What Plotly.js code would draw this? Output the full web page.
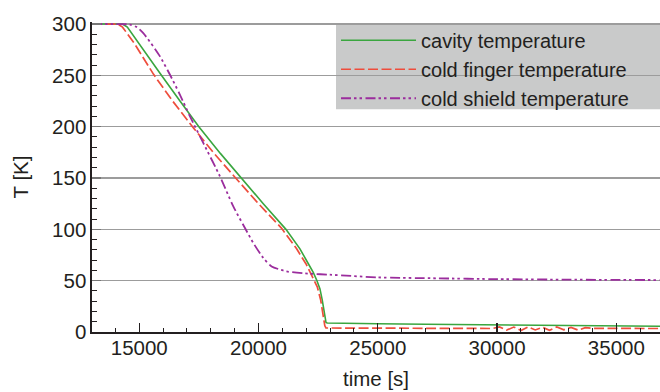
<!DOCTYPE html>
<html>
<head>
<meta charset="utf-8">
<script src="https://cdn.plot.ly/plotly-3.0.1.min.js"></script>
<style>html,body{margin:0;padding:0;background:#fff;}#chart{width:660px;height:392px;}</style>
</head>
<body>
<div id="chart"></div>
<script>
// Cavity temperature (green, solid)
const cavityTime = [13020, 14000, 14300, 14500, 15000, 15870, 16708, 17500, 18400, 19270, 20200, 21150, 21737, 22100, 22295, 22450, 22576, 22672, 22740, 22785, 22830, 22880, 23500, 25000, 27000, 30000, 33000, 36830];
const cavityTemp = [300, 300, 300, 297, 281, 252, 225, 200, 174, 150, 125, 100, 81, 66, 58, 50, 42, 31, 21, 12, 9.2, 8.7, 8.4, 8.0, 7.5, 7.0, 6.2, 5.6];

// Cold finger temperature (red, dashed)
const fingerTime = [13020, 14000, 14100, 14300, 14800, 15600, 16400, 17266, 18100, 19004, 20000, 20970, 21598, 22000, 22157, 22463, 22604, 22713, 22780, 22827, 24000, 27000, 29800, 30100, 30400, 30700, 31000, 31300, 31600, 31900, 32200, 32500, 32800, 33100, 33400, 33700, 34000, 36830];
const fingerTemp = [300, 300, 300, 297, 281, 251, 225, 199, 175, 151, 125, 101, 81, 66, 59, 44, 31.5, 15, 6, 3.9, 3.8, 3.5, 3.4, 5.0, 1.8, 4.8, 1.5, 5.0, 2.0, 4.6, 1.6, 4.9, 2.2, 4.5, 1.8, 4.2, 3.5, 3.4];

// Cold shield temperature (purple, dash-dot-dot)
const shieldTime = [13020, 14000, 14613, 14900, 15170, 15589, 15870, 16289, 16708, 17127, 17700, 18384, 18943, 19432, 19781, 20200, 20551, 21180, 22157, 22994, 25000, 27500, 30000, 33000, 36830];
const shieldTemp = [300, 300, 299.5, 297, 291.2, 278.2, 268.5, 250.6, 231.1, 210, 183.5, 151.6, 122.3, 101.3, 86.7, 72.1, 63.9, 59, 56.8, 55.8, 53.2, 52.3, 51.5, 51.0, 50.6];

const seriesNames = ['cavity temperature', 'cold finger temperature', 'cold shield temperature'];
const xTickVals = [15000, 20000, 25000, 30000, 35000];
const yTickVals = [0, 50, 100, 150, 200, 250, 300];

const txt = '#231f20';
const fontFam = 'Liberation Sans, Arial, Helvetica, sans-serif';

const traces = [
  {x: cavityTime, y: cavityTemp, name: seriesNames[0], mode: 'lines', type: 'scatter',
   line: {color: '#3aa63f', width: 1.6}},
  {x: fingerTime, y: fingerTemp, name: seriesNames[1], mode: 'lines', type: 'scatter',
   line: {color: '#ee4d3c', width: 1.7, dash: '10px,3.5px'}},
  {x: shieldTime, y: shieldTemp, name: seriesNames[2], mode: 'lines', type: 'scatter',
   line: {color: '#9b2d9d', width: 1.8, dash: '10px,3px,2.5px,3px,2.5px,3.5px', shape: 'spline', smoothing: 0.6}}
];

const layout = {
  width: 660, height: 392,
  margin: {l: 92, r: 0, t: 22, b: 60, pad: 0},
  paper_bgcolor: '#ffffff', plot_bgcolor: '#ffffff',
  font: {family: fontFam, size: 20.5, color: txt},
  showlegend: true,
  legend: {
    x: 0.4296, xanchor: 'left', y: 1.004, yanchor: 'top',
    bgcolor: 'rgba(0,0,0,0)', borderwidth: 0,
    font: {family: fontFam, size: 20, color: txt},
    itemwidth: 75, tracegroupgap: 0
  },
  xaxis: {
    range: [13020, 36830],
    tickvals: xTickVals, ticktext: xTickVals.map(String),
    ticks: 'inside', ticklen: 9, tickwidth: 1.2, tickcolor: txt,
    minor: {dtick: 1000, tick0: 0, ticks: 'inside', ticklen: 4, tickwidth: 1, tickcolor: txt, showgrid: false},
    showline: true, linecolor: txt, linewidth: 1.6,
    showgrid: false, zeroline: false,
    ticklabelstandoff: -3,
    tickfont: {family: fontFam, size: 20.5, color: txt},
    title: {text: 'time [s]', font: {family: fontFam, size: 20.5, color: txt}, standoff: 13}
  },
  yaxis: {
    range: [0, 302],
    tickvals: yTickVals, ticktext: yTickVals.map(String),
    ticks: 'inside', ticklen: 9, tickwidth: 1.2, tickcolor: '#777',
    minor: {dtick: 10, tick0: 0, ticks: 'inside', ticklen: 5, tickwidth: 1, tickcolor: txt, showgrid: false},
    showline: true, linecolor: txt, linewidth: 1.6,
    showgrid: true, gridcolor: '#9c9c9c', gridwidth: 1.2,
    zeroline: false,
    tickfont: {family: fontFam, size: 20.5, color: txt},
    title: {text: 'T [K]', font: {family: fontFam, size: 20.5, color: txt}, standoff: 18}
  },
  shapes: [
    {type: 'rect', xref: 'paper', yref: 'y', x0: 0.4296, x1: 1, y0: 217, y1: 299.2,
     fillcolor: '#c9caca', line: {width: 0}, layer: 'between'},
    {type: 'line', xref: 'paper', yref: 'y', x0: 0, x1: 1, y0: 300, y1: 300,
     line: {color: '#333333', width: 1.6}, layer: 'between'}
  ]
};

Plotly.newPlot('chart', traces, layout, {staticPlot: true, displayModeBar: false});
</script>
</body>
</html>
